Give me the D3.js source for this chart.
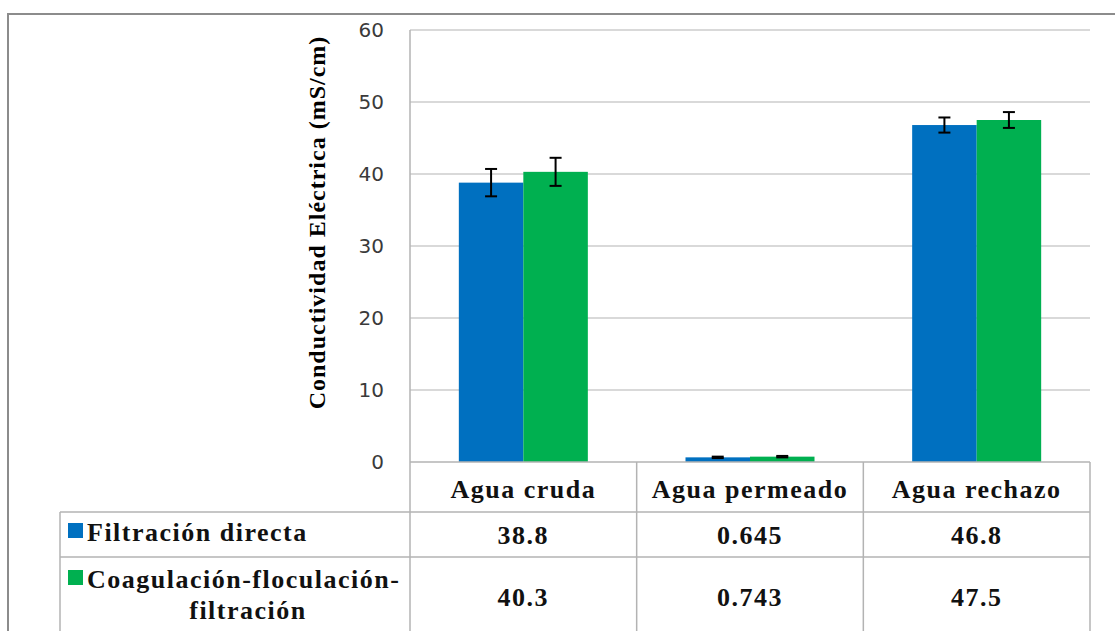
<!DOCTYPE html>
<html>
<head>
<meta charset="utf-8">
<script src="https://cdn.jsdelivr.net/npm/d3@7/dist/d3.min.js"></script>
<style>
	body { margin: 0; background: #fff; }
	svg { display: block; }
</style>
</head>
<body>
<script>
// data
let categories = 	['Agua cruda', 'Agua permeado', 'Agua rechazo']
let seriesNames = 	['Filtración directa', 'Coagulación-floculación-filtración']
let legendLines = 	[['Filtración directa'], ['Coagulación-floculación-', 'filtración']]
let directa = 		[38.8, 0.645, 46.8]
let coagulacion = 	[40.3, 0.743, 47.5]
let errDirecta = 	[1.9, 0.1, 1.05]
let errCoag = 		[1.95, 0.1, 1.1]
let yTicks = 		[0, 10, 20, 30, 40, 50, 60]
let colors = 		['#0070c0', '#00b050']

let W = 1115, H = 631
let x0 = 410, x1 = 1090, y0 = 30, y1 = 462
let tblLeft = 60, rowA = 512, rowB = 557
let gridCol = '#b3b3b3'
let serif = '"Liberation Serif", "Times New Roman", serif'
let tblSize = '26px', tblSpacing = '1.5px'

let svg = d3.select('body').append('svg')
	.attr('width', W).attr('height', H)

// outer frame
svg.append('rect')
	.attr('x', 8).attr('y', 14)
	.attr('width', 1300).attr('height', 800)
	.attr('fill', 'none').style('stroke', '#8c8c8c').attr('stroke-width', 2)

let x = d3.scaleBand().domain(categories).range([x0, x1])
let xs = d3.scaleBand().domain(seriesNames).range([0, x.bandwidth()]).paddingOuter(0.757)
let y = d3.scaleLinear().domain([0, 60]).range([y1, y0])

// gridlines
svg.selectAll('.grid').data(yTicks.filter(t => t > 0)).enter().append('line')
	.attr('x1', x0).attr('x2', x1)
	.attr('y1', d => y(d)).attr('y2', d => y(d))
	.style('stroke', gridCol).attr('stroke-width', 1.2)

// y axis tick labels
let yAxis = d3.axisLeft(y).tickValues(yTicks).tickSize(0).tickPadding(26)
let gy = svg.append('g').attr('transform', `translate(${x0},0)`).call(yAxis)
gy.select('.domain').remove()
gy.selectAll('text')
	.style('font-family', '"DejaVu Sans", sans-serif').style('font-size', '20px')
	.attr('fill', '#3a3a3a')

// y title
svg.append('text')
	.attr('transform', `translate(325,${(35 + 410) / 2}) rotate(-90)`)
	.attr('text-anchor', 'middle')
	.style('font-family', serif).style('font-size', '24px').style('font-weight', 'bold')
	.style('letter-spacing', '1px')
	.text('Conductividad Eléctrica (mS/cm)')

// bars
let all = [directa, coagulacion]
let errs = [errDirecta, errCoag]
seriesNames.forEach((s, si) => {
	let g = svg.append('g')
	g.selectAll('rect').data(categories).enter().append('rect')
		.attr('x', (c) => x(c) + xs(s))
		.attr('y', (c, i) => y(all[si][i]))
		.attr('width', xs.bandwidth())
		.attr('height', (c, i) => y1 - y(all[si][i]))
		.attr('fill', colors[si])
	// error bars
	categories.forEach((c, i) => {
		let cx = x(c) + xs(s) + xs.bandwidth() / 2
		let v = all[si][i], e = errs[si][i]
		let eg = svg.append('g').style('stroke', '#000').attr('stroke-width', 2)
		eg.append('line').attr('x1', cx).attr('x2', cx).attr('y1', y(v + e)).attr('y2', y(v - e))
		eg.append('line').attr('x1', cx - 6).attr('x2', cx + 6).attr('y1', y(v + e)).attr('y2', y(v + e))
		eg.append('line').attr('x1', cx - 6).attr('x2', cx + 6).attr('y1', y(v - e)).attr('y2', y(v - e))
	})
})

// data table lines
let hl = [[x0, y1], [tblLeft, rowA], [tblLeft, rowB]]
hl.forEach(([a, b]) => {
	svg.append('line').attr('x1', a).attr('x2', x1).attr('y1', b).attr('y2', b)
		.style('stroke', gridCol).attr('stroke-width', 1.5)
})
svg.append('line').attr('x1', x0).attr('x2', x0).attr('y1', y0).attr('y2', H)
	.style('stroke', gridCol).attr('stroke-width', 1.5)
svg.append('line').attr('x1', tblLeft).attr('x2', tblLeft).attr('y1', rowA).attr('y2', H)
	.style('stroke', gridCol).attr('stroke-width', 1.5)
categories.forEach(c => {
	svg.append('line').attr('x1', x(c) + x.bandwidth()).attr('x2', x(c) + x.bandwidth())
		.attr('y1', y1).attr('y2', H)
		.style('stroke', gridCol).attr('stroke-width', 1.5)
})

let tableText = function(sel) {
	sel.style('font-family', serif).style('font-size', tblSize).style('font-weight', 'bold')
		.style('letter-spacing', tblSpacing).attr('fill', '#111')
}

// header labels
svg.selectAll('.cat').data(categories).enter().append('text')
	.attr('x', c => x(c) + x.bandwidth() / 2).attr('y', 498)
	.attr('text-anchor', 'middle')
	.call(tableText)
	.text(c => c)

// values
let rowBase = [544, 606]
all.forEach((vals, si) => {
	svg.selectAll('.v' + si).data(vals).enter().append('text')
		.attr('x', (v, i) => x(categories[i]) + x.bandwidth() / 2).attr('y', rowBase[si])
		.attr('text-anchor', 'middle')
		.call(tableText)
		.text(v => v)
})

// legend keys
let keyY = [523, 570]
legendLines.forEach((lines, si) => {
	svg.append('rect').attr('x', 68).attr('y', keyY[si]).attr('width', 15).attr('height', 15)
		.attr('fill', colors[si])
	svg.append('text').attr('x', 87).attr('y', keyY[si] + 18)
		.call(tableText)
		.text(lines[0])
	if (lines[1]) {
		svg.append('text').attr('x', 248).attr('y', keyY[si] + 49)
			.attr('text-anchor', 'middle')
			.call(tableText)
			.text(lines[1])
	}
})
</script>
</body>
</html>
